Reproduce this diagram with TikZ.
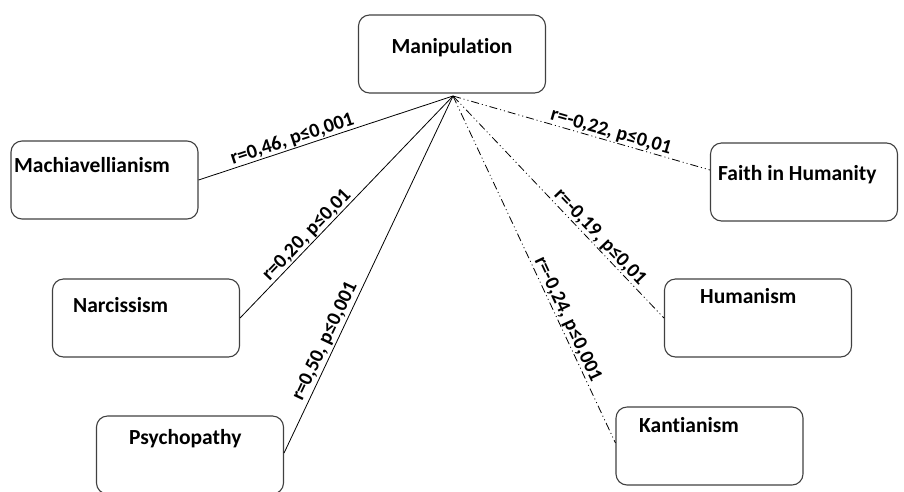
\documentclass[tikz,border=0pt]{standalone}
\usepackage{fontspec}
\setmainfont{Carlito}[Ligatures=NoCommon]
\begin{document}
\begin{tikzpicture}[x=1pt,y=-1pt,
  box/.style={draw=black!75, line width=1.1pt, rounded corners=11pt, minimum width=187pt, minimum height=78pt, inner sep=0pt},
  lbl/.style={font=\fontsize{21.5}{25}\selectfont\bfseries, inner sep=0pt},
  elbl/.style={font=\fontsize{20}{24}\selectfont\bfseries, sloped, anchor=south, inner sep=0.5pt},
  posline/.style={line width=0.8pt, black},
  negline/.style={line width=0.8pt, black, dash pattern=on 8pt off 3pt on 1pt off 3pt on 1pt off 3pt}]
\useasboundingbox (0,0) rectangle (904,491);
\clip (0,0) rectangle (904,491);
% boxes
\node[box] (manip) at (452,54) {};
\node[box] (mach) at (104.5,180) {};
\node[box] (narc) at (146,318) {};
\node[box] (psych) at (190,455) {};
\node[box] (faith) at (804,182) {};
\node[box] (human) at (758,318) {};
\node[box] (kant) at (709.5,446) {};
% texts
\node[lbl, anchor=base] (tmanip) at (452,53) {Manipulation};
\node[lbl, anchor=base west] (tmach) at (14,172) {Machiavellianism};
\node[lbl, anchor=base west] (tnarc) at (73,312) {Narcissism};
\node[lbl, anchor=base west] (tpsych) at (129,444) {Psychopathy};
\node[lbl, anchor=base west] (tfaith) at (718,180) {Faith in Humanity};
\node[lbl, anchor=base west] (thuman) at (700,303) {Humanism};
\node[lbl, anchor=base west] (tkant) at (639,432) {Kantianism};
% hub
\coordinate (hub) at (453,96);
% connectors
\draw[posline] (mach.east) -- node[elbl, pos=0.38] {r=0,46, p≤0,001} (hub);
\draw[posline] (narc.east) -- node[elbl, pos=0.345] {r=0,20, p≤0,01} (hub);
\draw[posline] ([yshift=2pt]psych.east) -- node[elbl, pos=0.3, inner sep=2pt] {r=0,50, p≤0,001} (hub);
\draw[negline] (hub) -- node[elbl, pos=0.605] {r=-0,22, p≤0,01} ([yshift=12pt]faith.west);
\draw[negline] (hub) -- node[elbl, pos=0.665] {r=-0,19, p≤0,01} (human.west);
\draw[negline] (hub) -- node[elbl, pos=0.655] {r=-0,24, p≤0,001} ([yshift=3pt]kant.west);
\end{tikzpicture}
\end{document}
